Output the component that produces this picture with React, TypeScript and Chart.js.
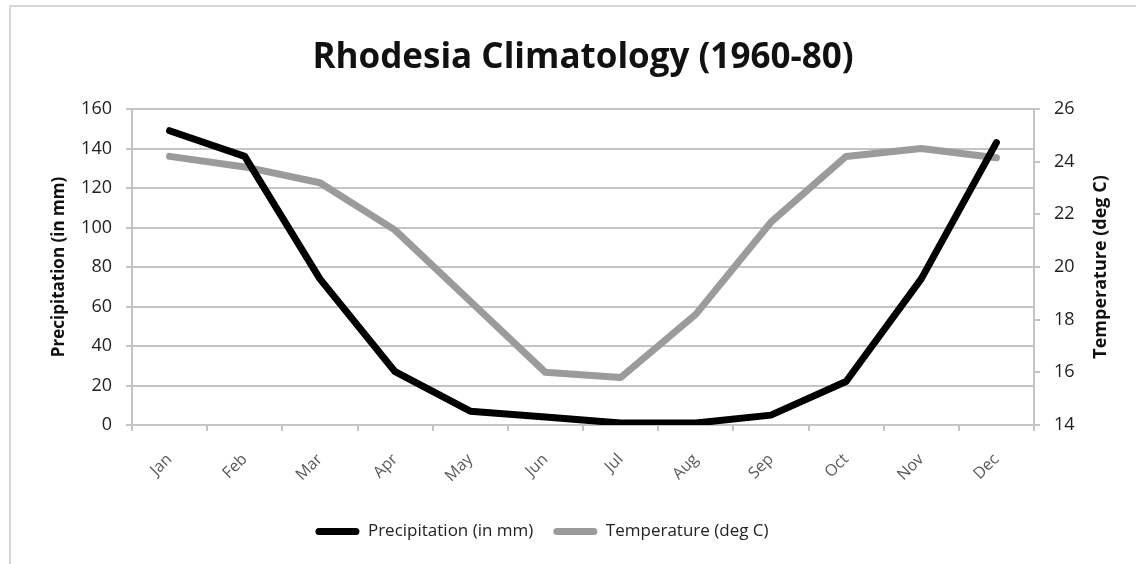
import React, { useEffect, useRef } from "react";
import { Chart, registerables } from "chart.js";

Chart.register(...registerables);

const months = ["Jan", "Feb", "Mar", "Apr", "May", "Jun", "Jul", "Aug", "Sep", "Oct", "Nov", "Dec"];
const precipitation = [149, 136, 74, 27, 7, 4, 1, 1, 5, 22, 74, 143];
const temperature = [24.2, 23.8, 23.2, 21.4, 18.7, 16.0, 15.8, 18.2, 21.7, 24.2, 24.5, 24.15];

const titleText = "Rhodesia Climatology (1960-80)";
const precipLabel = "Precipitation (in mm)";
const tempLabel = "Temperature (deg C)";

const FONT = "'Open Sans', 'DejaVu Sans', sans-serif";
const GRID = "#c4c4c4";

const rightTitlePlugin = {
  id: "rightTitle",
  afterDraw(chart: any) {
    const { ctx, chartArea } = chart;
    ctx.save();
    ctx.font = `bold 18px ${FONT}`;
    ctx.fillStyle = "#111";
    ctx.textAlign = "center";
    ctx.textBaseline = "middle";
    ctx.translate(1101, (chartArea.top + chartArea.bottom) / 2);
    ctx.rotate(-Math.PI / 2);
    ctx.fillText(tempLabel, 0, 0);
    ctx.restore();
  },
};

export default function App() {
  const ref = useRef<HTMLCanvasElement>(null);
  useEffect(() => {
    if (!ref.current) return;
    const chart = new Chart(ref.current, {
      type: "line",
      data: {
        labels: months,
        datasets: [
          {
            label: precipLabel,
            data: precipitation,
            borderColor: "#000000",
            backgroundColor: "#000000",
            borderWidth: 7,
            pointRadius: 0,
            tension: 0,
            borderJoinStyle: "round",
            borderCapStyle: "round",
            yAxisID: "y",
          },
          {
            label: tempLabel,
            data: temperature,
            borderColor: "#9b9b9b",
            backgroundColor: "#9b9b9b",
            borderWidth: 7,
            pointRadius: 0,
            tension: 0,
            borderJoinStyle: "round",
            borderCapStyle: "round",
            yAxisID: "y1",
          },
        ],
      },
      options: {
        animation: false,
        responsive: false,
        maintainAspectRatio: false,
        layout: { padding: { left: 0, right: 52, top: 0, bottom: 14 } },
        plugins: {
          title: {
            display: true,
            text: titleText,
            fullSize: false,
            color: "#111",
            font: { family: FONT, size: 35, weight: "bold" },
            padding: { top: 37, bottom: 30 },
          },
          legend: {
            position: "bottom",
            labels: {
              boxWidth: 44,
              boxHeight: 7,
              padding: 20,
              useBorderRadius: true,
              borderRadius: 3.5,
              color: "#222",
              font: { family: FONT, size: 17 },
              generateLabels(chart: any) {
                const items = Chart.defaults.plugins.legend.labels.generateLabels(chart);
                return items.map((it: any) => ({ ...it, lineWidth: 0 }));
              },
            },
          },
          tooltip: { enabled: false },
        },
        scales: {
          x: {
            offset: true,
            grid: { offset: true, drawOnChartArea: false, color: GRID, lineWidth: 2, tickLength: 6 },
            border: { color: GRID, width: 2 },
            ticks: {
              minRotation: 45,
              maxRotation: 45,
              padding: 19,
              color: "#595959",
              font: { family: FONT, size: 16 },
            },
            afterFit(scale: any) {
              scale.height = 78;
            },
          },
          y: {
            position: "left",
            min: 0,
            max: 160,
            ticks: { stepSize: 20, padding: 14, color: "#222", font: { family: FONT, size: 18 } },
            grid: { color: GRID, lineWidth: 2, tickLength: 6 },
            border: { color: GRID, width: 2 },
            title: {
              display: true,
              text: precipLabel,
              color: "#111",
              font: { family: FONT, size: 17, weight: "bold" },
              padding: { top: 49, bottom: 0 },
            },
            afterFit(scale: any) {
              scale.width = 132;
            },
          },
          y1: {
            position: "right",
            min: 14,
            max: 26,
            ticks: { stepSize: 2, padding: 14, color: "#222", font: { family: FONT, size: 18 } },
            grid: { drawOnChartArea: false, color: GRID, lineWidth: 2, tickLength: 6 },
            border: { color: GRID, width: 2 },
            afterFit(scale: any) {
              scale.width = 50;
            },
          },
        },
      },
      plugins: [rightTitlePlugin],
    });
    return () => chart.destroy();
  }, []);

  return (
    <div style={{ position: "absolute", left: 0, top: 0, width: 1136, height: 564, overflow: "hidden", background: "#fff" }}>
      <div
        style={{
          position: "absolute",
          left: 9,
          top: 5,
          width: 1300,
          height: 700,
          borderTop: "2px solid #d6d6d6",
          borderLeft: "2px solid #d6d6d6",
        }}
      />
      <canvas ref={ref} width={1136} height={564} style={{ position: "absolute", left: 0, top: 0 }} />
    </div>
  );
}
